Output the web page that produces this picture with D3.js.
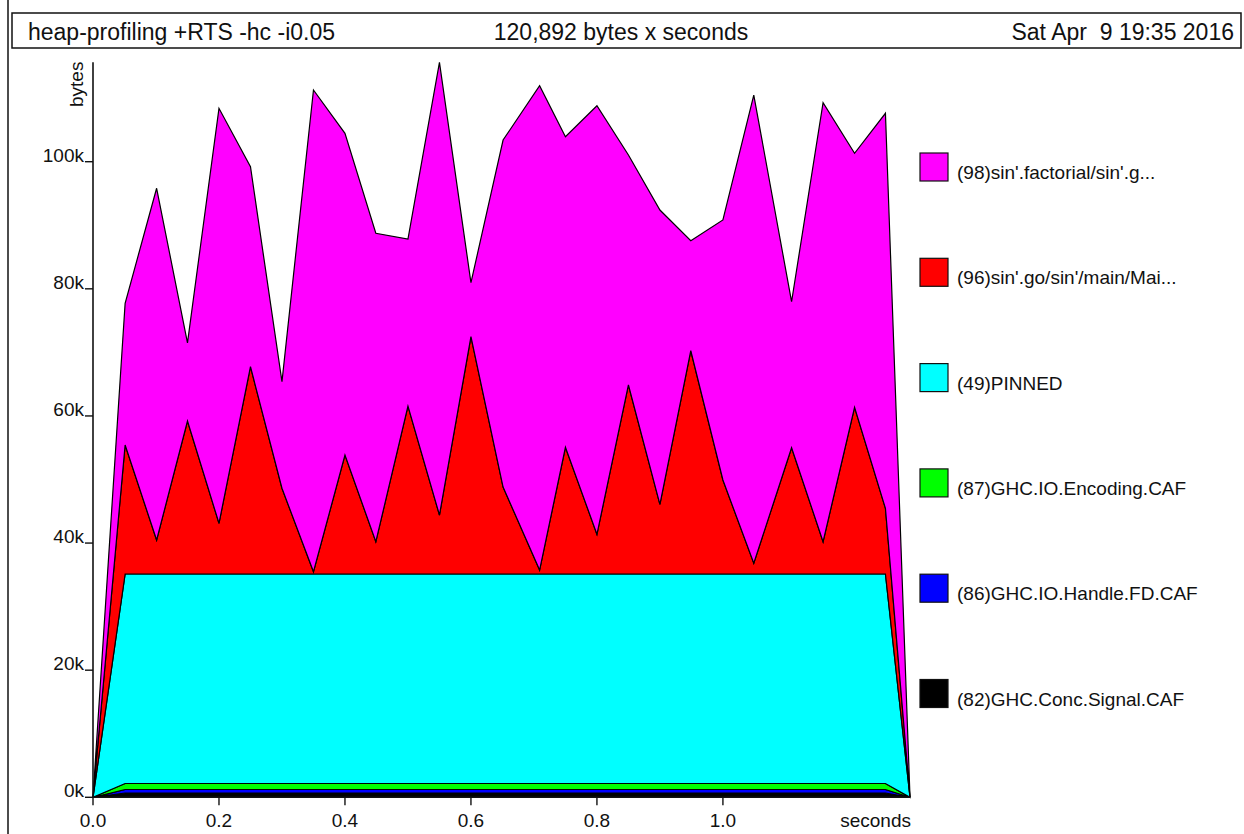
<!DOCTYPE html>
<html>
<head>
<meta charset="utf-8">
<script src="https://cdn.jsdelivr.net/npm/d3@7"></script>
<style>
  html, body { margin: 0; padding: 0; background: #fff; }
  svg { display: block; }
  text { font-family: "Liberation Sans", Arial, Helvetica, sans-serif; fill: #111; }
</style>
</head>
<body>
<svg id="chart" width="1244" height="834"></svg>
<script>
// Heap profile samples (seconds) and per-cost-centre residency (bytes)
const times = [0, 0.051, 0.101, 0.150, 0.200, 0.250, 0.300, 0.350, 0.400, 0.449,
  0.500, 0.550, 0.600, 0.651, 0.709, 0.750, 0.800, 0.850, 0.900, 0.949,
  1.000, 1.049, 1.109, 1.159, 1.209, 1.258, 1.297];

const ghcConcSignal = [0, 680, 680, 680, 680, 680, 680, 680, 680, 680, 680, 680, 680, 680,
  680, 680, 680, 680, 680, 680, 680, 680, 680, 680, 680, 680, 0];
const ghcHandleFD = [0, 550, 550, 550, 550, 550, 550, 550, 550, 550, 550, 550, 550, 550,
  550, 550, 550, 550, 550, 550, 550, 550, 550, 550, 550, 550, 0];
const ghcEncoding = [0, 940, 940, 940, 940, 940, 940, 940, 940, 940, 940, 940, 940, 940,
  940, 940, 940, 940, 940, 940, 940, 940, 940, 940, 940, 940, 0];
const pinned = [0, 32960, 32960, 32960, 32960, 32960, 32960, 32960, 32960, 32960, 32960,
  32960, 32960, 32960, 32960, 32960, 32960, 32960, 32960, 32960, 32960, 32960, 32960,
  32960, 32960, 32960, 0];
const sinGo = [0, 20300, 5350, 24070, 7980, 32620, 13490, 360, 18720, 5080, 26430, 9280,
  37340, 13690, 630, 19940, 6250, 29740, 10970, 35130, 14790, 1690, 19870, 5080, 26230,
  10340, 0];
const sinFactorial = [0, 22290, 55340, 12300, 65290, 31460, 16770, 75790, 50620, 48530,
  26280, 71230, 8490, 54590, 76200, 48860, 67430, 36180, 46300, 17310, 40910, 73670,
  22970, 69070, 39960, 62150, 0];

// Bands, bottom of the stack first
const bandNames = ["(82)GHC.Conc.Signal.CAF", "(86)GHC.IO.Handle.FD.CAF", "(87)GHC.IO.Encoding.CAF",
  "(49)PINNED", "(96)sin'.go/sin'/main/Mai...", "(98)sin'.factorial/sin'.g..."];
const bandColors = ["#000000", "#0000ff", "#00ff00", "#00ffff", "#ff0000", "#ff00ff"];
const bandValues = [ghcConcSignal, ghcHandleFD, ghcEncoding, pinned, sinGo, sinFactorial];

const yTicks = [0, 20000, 40000, 60000, 80000, 100000];
const yTickLabels = ["0k", "20k", "40k", "60k", "80k", "100k"];
const xTicks = [0, 0.2, 0.4, 0.6, 0.8, 1.0];
const xTickLabels = ["0.0", "0.2", "0.4", "0.6", "0.8", "1.0"];

const headerLeft = "heap-profiling +RTS -hc -i0.05";
const headerMid = "120,892 bytes x seconds";
const headerRight = "Sat Apr  9 19:35 2016";

const svg = d3.select("#chart");

// table for d3.stack
const rows = times.map((t, i) => {
  const r = { t };
  bandValues.forEach((vals, k) => { r[k] = vals[i]; });
  return r;
});
const keys = bandValues.map((_, k) => k);
const series = d3.stack().keys(keys)(rows);
const maxTotal = d3.max(series[series.length - 1], d => d[1]);

const x = d3.scaleLinear().domain([0, times[times.length - 1]]).range([93, 910]);
const y = d3.scaleLinear().domain([0, maxTotal]).range([797.3, 62.3]);

// page frame line and header box
svg.append("line").attr("x1", 8).attr("x2", 8).attr("y1", 0).attr("y2", 834)
  .attr("stroke", "#111").attr("stroke-width", 1.5);
svg.append("rect").attr("x", 12).attr("y", 13).attr("width", 1229).attr("height", 35)
  .attr("fill", "#fff").attr("stroke", "#111").attr("stroke-width", 1.5);

const hdr = svg.append("g").style("font-size", "23px");
hdr.append("text").attr("x", 28).attr("y", 40).text(headerLeft);
hdr.append("text").attr("x", 621).attr("y", 40).attr("text-anchor", "middle").text(headerMid);
hdr.append("text").attr("x", 1234).attr("y", 40).attr("text-anchor", "end")
  .style("white-space", "pre").text(headerRight);

// stacked bands
const area = d3.area()
  .x(d => x(d.data.t))
  .y0(d => y(d[0]))
  .y1(d => y(d[1]));

svg.append("g").selectAll("path").data(series).join("path")
  .attr("d", area)
  .attr("fill", (d, i) => bandColors[i])
  .attr("stroke", "#000")
  .attr("stroke-width", 1.2)
  .attr("stroke-linejoin", "miter");

// axes
const axisG = svg.append("g").style("font-size", "19px");
axisG.append("line").attr("x1", 93).attr("x2", 93).attr("y1", y(maxTotal)).attr("y2", y(0))
  .attr("stroke", "#111").attr("stroke-width", 1.6);
axisG.append("line").attr("x1", 93).attr("x2", x(times[times.length - 1])).attr("y1", y(0)).attr("y2", y(0))
  .attr("stroke", "#111").attr("stroke-width", 1.6);

yTicks.forEach((v, i) => {
  axisG.append("line").attr("x1", 85).attr("x2", 93).attr("y1", y(v)).attr("y2", y(v))
    .attr("stroke", "#111").attr("stroke-width", 1.4);
  axisG.append("text").attr("x", 84).attr("y", y(v)).attr("text-anchor", "end").text(yTickLabels[i]);
});
xTicks.forEach((v, i) => {
  axisG.append("line").attr("x1", x(v)).attr("x2", x(v)).attr("y1", y(0)).attr("y2", y(0) + 8)
    .attr("stroke", "#111").attr("stroke-width", 1.4);
  axisG.append("text").attr("x", x(v)).attr("y", 827).attr("text-anchor", "middle").text(xTickLabels[i]);
});
axisG.append("text").attr("x", 911).attr("y", 827).attr("text-anchor", "end").text("seconds");
axisG.append("text").attr("transform", "translate(83,107) rotate(-90)").text("bytes");

// legend, top band first
const legend = svg.append("g").style("font-size", "19px");
const order = d3.range(bandNames.length).reverse();
order.forEach((k, j) => {
  const cy = 167 + j * 105.3;
  legend.append("rect").attr("x", 920).attr("y", cy - 14).attr("width", 28).attr("height", 28)
    .attr("fill", bandColors[k]).attr("stroke", "#111").attr("stroke-width", 1.2);
  legend.append("text").attr("x", 957).attr("y", cy + 12).text(bandNames[k]);
});
</script>
</body>
</html>
